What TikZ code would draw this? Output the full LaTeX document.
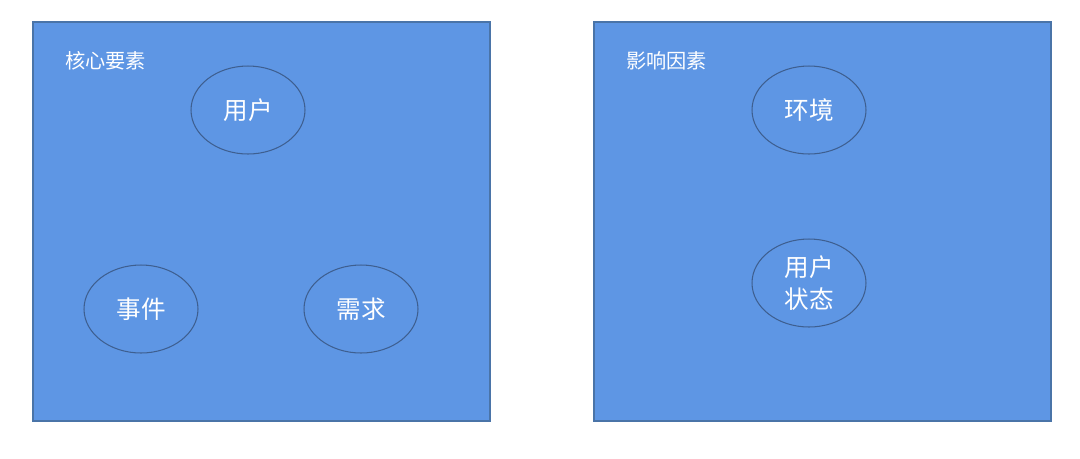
\documentclass[tikz,border=0pt]{standalone}
\usepackage{fontspec}
\setmainfont{Noto Sans CJK SC}
\usetikzlibrary{shapes.geometric}
\definecolor{panelblue}{HTML}{5E96E4}
\definecolor{paneledge}{HTML}{4A74A8}
\definecolor{ovaledge}{HTML}{3E5F90}

\begin{document}
\begin{tikzpicture}
[x=0.02cm,y=-0.02cm,%
  paneldecorate/.style={fill=panelblue,draw=paneledge,line width=0.6pt},%
  ovaldecorate/.style={shape=ellipse,draw=ovaledge,line width=0.6pt,minimum width=2.28cm,minimum height=1.76cm,inner sep=0pt,text=white,font=\fontsize{14}{18.5}\selectfont,align=center},%
  titledecorate/.style={anchor=west,text=white,inner sep=0pt,font=\fontsize{11.5}{14}\selectfont}]
\useasboundingbox (0,0) rectangle (1080,458);
%% panels
\draw[paneldecorate] (33,22) rectangle (490,421);
\draw[paneldecorate] (594,22) rectangle (1051,421);
%% panel titles
\node (coretitle) at (65,61) [titledecorate] {核心要素};
\node (factortitle) at (626,61) [titledecorate] {影响因素};
%% ovals
\foreach \nodename/\x/\y/\label in {
user/248/110/用户, event/141/309/事件, need/361/309/需求,
env/809/110/环境, state/809/283/用户\\状态}
{
  \node (\nodename) at (\x,\y) [ovaldecorate] {\label};
}
\end{tikzpicture}
\end{document}
